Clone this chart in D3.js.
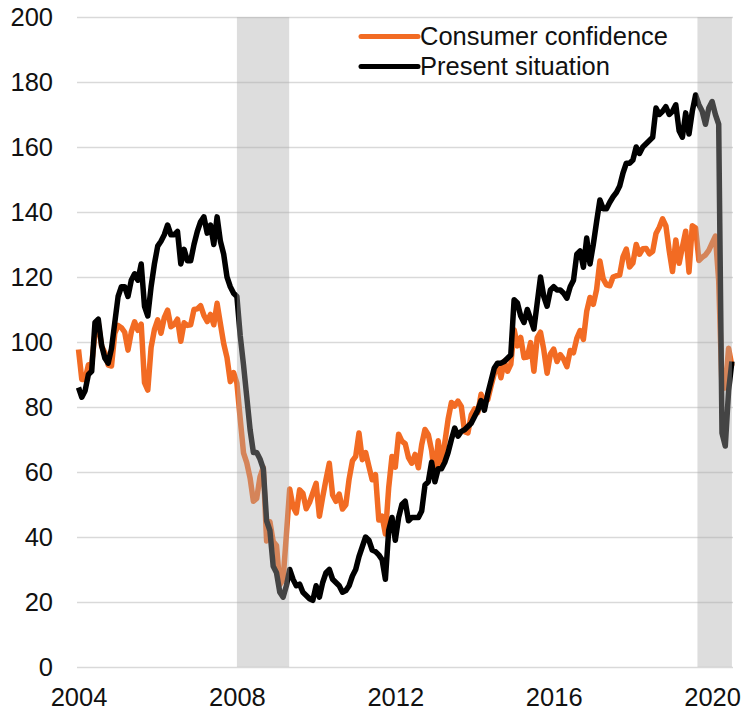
<!DOCTYPE html>
<html><head><meta charset="utf-8">
<script src="https://cdn.jsdelivr.net/npm/d3@7"></script>
<style>
body{margin:0;background:#fff;}
svg{display:block;font-family:"Liberation Sans",Arial,sans-serif;}
</style>
</head><body>
<svg id="chart" width="742" height="710"></svg>
<script>
// Monthly series, January 2004 to July 2020
const startYear = 2004;
const consumerConfidence = [
  97.7, 88.5, 88.5, 93.0, 93.1, 102.8, 105.7, 98.7, 96.7, 92.9, 92.6, 102.7,
  105.1, 104.4, 103.0, 97.5, 103.1, 106.2, 103.6, 105.5, 87.5, 85.2, 98.3, 103.8,
  106.8, 102.7, 107.5, 109.8, 104.7, 105.4, 107.0, 100.2, 105.9, 105.1, 105.3, 110.0,
  110.2, 111.2, 108.2, 106.3, 108.5, 105.3, 111.9, 105.6, 99.5, 95.2, 87.8, 90.6,
  87.3, 76.4, 65.9, 62.8, 58.1, 51.0, 51.9, 58.5, 61.4, 38.8, 44.7, 38.6,
  37.4, 25.3, 26.9, 40.8, 54.8, 49.3, 47.4, 54.5, 53.4, 48.7, 50.6, 53.6,
  56.5, 46.4, 52.3, 57.7, 62.7, 52.9, 51.0, 53.2, 48.6, 49.9, 57.8, 63.4,
  64.8, 72.0, 63.8, 66.0, 61.7, 57.6, 59.2, 45.2, 46.4, 40.9, 55.2, 64.8,
  61.5, 71.6, 69.5, 68.7, 64.4, 62.7, 65.4, 61.3, 68.4, 73.1, 71.5, 66.7,
  58.4, 69.6, 61.9, 69.0, 76.2, 81.4, 80.3, 81.8, 80.2, 72.4, 72.0, 77.5,
  79.4, 78.3, 83.9, 81.7, 82.2, 86.4, 90.3, 93.4, 89.0, 94.1, 91.0, 93.1,
  103.8, 98.8, 101.4, 95.2, 95.4, 99.8, 91.0, 101.3, 103.0, 97.6, 90.4, 96.3,
  97.8, 94.0, 96.1, 94.7, 92.4, 97.4, 96.7, 101.1, 103.5, 100.8, 109.4, 113.7,
  111.6, 116.1, 124.9, 119.4, 117.6, 117.3, 120.0, 120.4, 120.6, 126.2, 128.6, 123.1,
  124.3, 130.0, 127.0, 128.7, 128.8, 127.1, 127.9, 133.4, 135.3, 137.9, 135.7, 128.1,
  121.7, 131.4, 124.2, 129.2, 134.1, 121.5, 135.8, 135.1, 125.1, 126.1, 126.8, 128.2,
  130.4, 132.6, 118.8, 85.7, 85.9, 98.1, 92.6
];
const presentSituation = [
  86, 83, 85, 90, 91, 106, 107, 99, 95, 93.5, 98, 106,
  114, 117, 117, 114, 119, 121, 119, 124, 111, 108, 117, 124,
  129.5, 131, 133, 136, 133, 133, 134, 124, 128.5, 125, 125, 130,
  134, 137, 138.5, 133.5, 136, 130, 138.5, 131, 127, 120, 117, 115,
  114, 102, 93, 83, 73, 66, 66, 64, 61, 45, 42, 31,
  29, 23, 21.5, 25, 30, 27, 25, 25.5, 23, 22, 21, 20.5,
  25, 21.5, 26, 29, 30, 27, 26, 25, 23, 23.5, 25, 28,
  30, 34, 37, 40, 39, 36, 35.5, 34.5, 33, 27, 42, 46,
  39, 46, 50, 51, 45, 46, 46, 46, 48, 56, 57, 63,
  57, 61, 61, 63, 66, 70, 73.5, 71, 72.5, 73, 74, 75,
  77, 79, 82, 79, 84, 88, 92, 93.5, 93.5, 94, 95, 96,
  113, 112, 108, 106, 110, 107, 104, 112, 120, 114, 111, 116,
  117, 116, 116, 115, 113.5, 117, 119, 127, 128, 123, 132, 124,
  130, 137, 143.7, 141, 141, 143, 144.7, 146, 148, 152, 155, 155,
  156, 160, 158, 160, 161, 162, 163, 172, 170, 171, 172.4, 170,
  171, 173, 165, 163, 170.5, 164, 171, 176, 173, 171, 167, 172,
  174, 170, 167, 72, 68, 85, 94
];
const seriesNames = ["Consumer confidence", "Present situation"];
const seriesColors = ["#f26b23", "#000000"];
const yTicks = [0, 20, 40, 60, 80, 100, 120, 140, 160, 180, 200];
const xTicks = [2004, 2008, 2012, 2016, 2020];
// shaded periods (fractional years)
const shadeStarts = [2008.0, 2019.63];
const shadeEnds = [2009.32, 2020.5];

const svg = d3.select("#chart");
const lastT = startYear + (consumerConfidence.length - 1) / 12;
const x = d3.scaleLinear().domain([startYear, lastT]).range([78.5, 731.9]);
const y = d3.scaleLinear().domain([0, 200]).range([667, 17]);
const gridLeft = 77, gridRight = 733;

// gridlines + y labels
const yAxis = svg.append("g").attr("transform", `translate(${gridLeft},0)`)
  .call(d3.axisLeft(y).tickValues(yTicks).tickSize(-(gridRight - gridLeft)).tickPadding(24));
yAxis.select(".domain").remove();
yAxis.selectAll(".tick line").attr("stroke", "#d9d9d9").attr("stroke-width", 1.6);
yAxis.selectAll(".tick text").attr("font-size", 25.5).attr("fill", "#111")
  .attr("font-family", '"Liberation Sans", Arial, sans-serif');

// x labels
const xAxis = svg.append("g").attr("transform", `translate(0,${y(0)})`)
  .call(d3.axisBottom(x).tickValues(xTicks).tickSize(0).tickPadding(21).tickFormat(d3.format("d")));
xAxis.select(".domain").remove();
xAxis.selectAll(".tick text").attr("font-size", 25.5).attr("fill", "#111")
  .attr("font-family", '"Liberation Sans", Arial, sans-serif');

const line = d3.line()
  .x((d, i) => x(startYear + i / 12))
  .y(d => y(d));

const allSeries = [consumerConfidence, presentSituation];
allSeries.forEach((s, k) => {
  svg.append("path").datum(s)
    .attr("d", line)
    .attr("fill", "none")
    .attr("stroke", seriesColors[k])
    .attr("stroke-width", 5.5)
    .attr("stroke-linejoin", "round")
    .attr("stroke-linecap", "butt");
});

// shading overlay
svg.append("g").selectAll("rect").data(shadeStarts).join("rect")
  .attr("x", (d) => x(d))
  .attr("width", (d, i) => x(shadeEnds[i]) - x(d))
  .attr("y", y(200))
  .attr("height", y(0) - y(200))
  .attr("fill", "rgb(170,170,170)")
  .attr("fill-opacity", 0.4);

// legend
const legend = svg.append("g");
seriesNames.forEach((name, k) => {
  const ly = 36.5 + k * 30;
  legend.append("line").attr("x1", 361).attr("x2", 418).attr("y1", ly).attr("y2", ly)
    .attr("stroke", seriesColors[k]).attr("stroke-width", 5).attr("stroke-linecap", "round");
  legend.append("text").attr("x", 420).attr("y", ly).attr("dy", "0.35em")
    .attr("font-size", 25.5).attr("fill", "#111").text(name);
});
</script>
</body></html>
